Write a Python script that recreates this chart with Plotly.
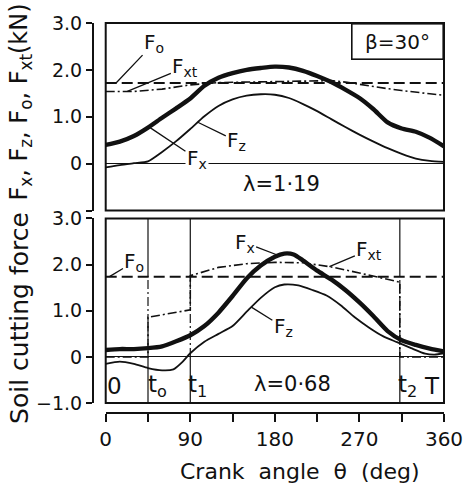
import plotly.graph_objects as go
import numpy as np

# ---------------- data ----------------
# Top panel (lambda = 1.19)
theta_top = [0, 15, 30, 45, 60, 75, 90, 105, 120, 135, 150, 165, 180, 195, 210,
             225, 240, 255, 270, 285, 300, 315, 330, 345, 360]
fx_top = [0.40, 0.47, 0.59, 0.77, 0.98, 1.18, 1.39, 1.66, 1.83, 1.93, 2.00, 2.04, 2.07,
          2.05, 1.98, 1.87, 1.74, 1.58, 1.40, 1.16, 0.88, 0.75, 0.68, 0.55, 0.37]
fz_top = [-0.08, -0.03, 0.01, 0.05, 0.25, 0.48, 0.74, 1.01, 1.23, 1.37, 1.45, 1.48, 1.47,
          1.40, 1.27, 1.12, 0.95, 0.78, 0.62, 0.47, 0.33, 0.21, 0.11, 0.06, 0.04]
theta_fxt_top = [0, 30, 60, 90, 120, 150, 180, 210, 240, 255, 270, 285, 300, 315, 330, 345, 360]
fxt_top = [1.54, 1.54, 1.59, 1.68, 1.73, 1.74, 1.75, 1.76, 1.77, 1.74, 1.69, 1.64, 1.60,
           1.56, 1.52, 1.49, 1.46]
f0_top = 1.72

# Bottom panel (lambda = 0.68)
theta_fx_bot = [0, 15, 30, 45, 60, 75, 90, 105, 120, 135, 150, 165, 180, 190, 200,
                210, 225, 240, 255, 270, 285, 300, 315, 330, 345, 360]
fx_bot = [0.15, 0.17, 0.17, 0.19, 0.23, 0.34, 0.47, 0.67, 0.96, 1.32, 1.70, 1.98, 2.17,
          2.24, 2.22, 2.09, 1.87, 1.68, 1.45, 1.18, 0.88, 0.56, 0.36, 0.26, 0.18, 0.12]
theta_fz_bot = [0, 15, 30, 45, 60, 72, 82, 90, 105, 120, 135, 150, 165, 180, 190,
                205, 220, 235, 250, 265, 280, 295, 310, 325, 340, 350, 360]
fz_bot = [-0.15, -0.10, -0.15, -0.24, -0.29, -0.27, -0.10, 0.08, 0.33, 0.50, 0.67, 0.98,
          1.28, 1.51, 1.57, 1.55, 1.45, 1.33, 1.12, 0.86, 0.64, 0.45, 0.32, 0.19, 0.07,
          0.05, 0.08]
theta_fxt_bot = [0, 45, 45, 90, 90, 120, 150, 180, 210, 240, 270, 300, 313, 313, 360]
fxt_bot = [0, 0, 0.86, 1.02, 1.76, 1.94, 2.02, 2.05, 2.04, 1.95, 1.82, 1.68, 1.62, 0, 0]
f0_bot = 1.74

t_marks = [45, 90, 313]

x_tick_vals = [0, 45, 90, 135, 180, 225, 270, 315, 360]
x_tick_text = ["0", "", "90", "", "180", "", "270", "", "360"]
y_tick_vals = [-1, 0, 1, 2, 3]
y_tick_text_top = ["", "0", "1.0", "2.0", "3.0"]
y_tick_text_bot = ["\u22121.0", "0", "1.0", "2.0", "3.0"]

FONT = "DejaVu Sans"
BLACK = "#111111"

fig = go.Figure()

def add_panel(xa, ya, th_fx, fx, th_fz, fz, th_fxt, fxt, f0):
    fig.add_trace(go.Scatter(x=[0, 360], y=[f0, f0], mode="lines", xaxis=xa, yaxis=ya,
                             line=dict(color=BLACK, width=2, dash="11px,5px"),
                             hoverinfo="skip"))
    fig.add_trace(go.Scatter(x=th_fxt, y=fxt, mode="lines", xaxis=xa, yaxis=ya,
                             line=dict(color=BLACK, width=1.6, dash="9px,3px,2px,3px"),
                             hoverinfo="skip"))
    fig.add_trace(go.Scatter(x=th_fz, y=fz, mode="lines", xaxis=xa, yaxis=ya,
                             line=dict(color=BLACK, width=1.8, shape="spline", smoothing=0.6),
                             hoverinfo="skip"))
    fig.add_trace(go.Scatter(x=th_fx, y=fx, mode="lines", xaxis=xa, yaxis=ya,
                             line=dict(color=BLACK, width=4.4, shape="spline", smoothing=0.6),
                             hoverinfo="skip"))

add_panel("x", "y", theta_top, fx_top, theta_top, fz_top, theta_fxt_top, fxt_top, f0_top)
add_panel("x2", "y2", theta_fx_bot, fx_bot, theta_fz_bot, fz_bot, theta_fxt_bot, fxt_bot, f0_bot)

# geometry (paper = plot area)
L, R, T, B = 93, 23, 20, 77
W, H = 475 - L - R, 490 - T - B
xdom = [(106 - L) / W, 1.0]
ydom_top = [(490 - B - 209) / H, 1.0]
ydom_bot = [(490 - B - 403) / H, (490 - B - 217) / H]

yax_common = dict(range=[-1, 3], anchor="free", position=0, tickvals=y_tick_vals,
                  ticks="outside", ticklen=6, tickwidth=2, tickcolor=BLACK,
                  showline=True, linewidth=2, linecolor=BLACK, showgrid=False,
                  zeroline=True, zerolinecolor=BLACK, zerolinewidth=1.3,
                  tickfont=dict(family=FONT, size=19, color=BLACK))

fig.update_layout(
    width=475, height=490,
    margin=dict(l=L, r=R, t=T, b=B),
    paper_bgcolor="white", plot_bgcolor="white",
    showlegend=False,
    xaxis=dict(domain=xdom, range=[0, 360], visible=False, anchor="y"),
    yaxis=dict(domain=ydom_top, ticktext=y_tick_text_top, **yax_common),
    xaxis2=dict(domain=xdom, range=[0, 360], anchor="free", position=0,
                tickvals=x_tick_vals, ticktext=x_tick_text, ticks="outside",
                ticklen=8, tickwidth=2, tickcolor=BLACK, showline=True, linewidth=2,
                linecolor=BLACK, showgrid=False, zeroline=False,
                tickfont=dict(family=FONT, size=20, color=BLACK)),
    yaxis2=dict(domain=ydom_bot, ticktext=y_tick_text_bot, **yax_common),
)

shapes = []
for xr, yr in (("x", "y"), ("x2", "y2")):
    shapes.append(dict(type="rect", xref=xr + " domain", yref=yr + " domain",
                       x0=0, x1=1, y0=0, y1=1, line=dict(color=BLACK, width=2), layer="above"))
for t in t_marks:
    shapes.append(dict(type="line", xref="x2", yref="y2", x0=t, x1=t, y0=f0_bot, y1=3,
                       line=dict(color=BLACK, width=1.2)))
    shapes.append(dict(type="line", xref="x2", yref="y2", x0=t, x1=t, y0=0, y1=f0_bot,
                       line=dict(color=BLACK, width=1.2, dash="9px,3px,2px,3px")))
    shapes.append(dict(type="line", xref="x2", yref="y2", x0=t, x1=t, y0=-1, y1=0,
                       line=dict(color=BLACK, width=1.2)))
fig.update_layout(shapes=shapes)

ann = []
def label(xr, yr, x, y, text, size=20, **kw):
    d = dict(xref=xr, yref=yr, x=x, y=y, text=text, showarrow=False,
             xanchor="center", yanchor="middle",
             font=dict(family=FONT, size=size, color=BLACK))
    d.update(kw)
    ann.append(d)

def leader(xr, yr, th, arr_th, arr_v, text, ax, ay, **kw):
    yv = float(np.interp(th, arr_th, arr_v))
    d = dict(xref=xr, yref=yr, x=th, y=yv, text=text, showarrow=True, arrowhead=0,
             arrowwidth=1.3, arrowcolor=BLACK, ax=ax, ay=ay,
             font=dict(family=FONT, size=20, color=BLACK))
    d.update(kw)
    ann.append(d)

# top panel labels
leader("x", "y", 11, [0, 360], [f0_top, f0_top], "F<sub>o</sub>", 38, -40)
leader("x", "y", 23, theta_fxt_top, fxt_top, "F<sub>xt</sub>", 58, -24)
leader("x", "y", 46, theta_top, fx_top, "F<sub>x</sub>", 48, 32, bgcolor="white")
leader("x", "y", 98, theta_top, fz_top, "F<sub>z</sub>", 39, 19)
ann.append(dict(xref="x domain", yref="y domain", x=1, y=1, xanchor="right", yanchor="top",
                text="\u03b2=30\u00b0", showarrow=False, width=90, height=34,
                bordercolor=BLACK, borderwidth=1.6, borderpad=0, bgcolor="white",
                font=dict(family=FONT, size=20, color=BLACK)))
label("x", "y", 187, -0.44, "\u03bb=1\u00b719", size=21)

# bottom panel labels
leader("x2", "y2", 4, [0, 360], [f0_bot, f0_bot], "F<sub>o</sub>", 25, -15)
leader("x2", "y2", 184, theta_fx_bot, fx_bot, "F<sub>x</sub>", -34, -13)
leader("x2", "y2", 155, theta_fz_bot, fz_bot, "F<sub>z</sub>", 32, 20)
leader("x2", "y2", 238, theta_fxt_bot[5:12], fxt_bot[5:12], "F<sub>xt</sub>", 40, -17)
label("x2", "y2", 199, -0.59, "\u03bb=0\u00b768", size=21)
label("x2", "y2", 9.4, -0.64, "0", size=23)
label("x2", "y2", 42.7, -0.64, "t<sub>o</sub>", size=23, xanchor="left")
label("x2", "y2", 85, -0.64, "t<sub>1</sub>", size=23, xanchor="left")
label("x2", "y2", 309, -0.64, "t<sub>2</sub>", size=23, xanchor="left")
label("x2", "y2", 347.5, -0.64, "T", size=23)

# axis titles
label("paper", "paper", (18.5 - L) / W, (490 - B - 317) / H, "Soil cutting force",
      size=25, textangle=-90)
label("paper", "paper", (18.5 - L) / W, (490 - B - 100) / H,
      "F<sub>x</sub>, F<sub>z</sub>, F<sub>o</sub>, F<sub>xt</sub>(kN)", size=24, textangle=-90)
label("paper", "paper", (305 - L) / W, (490 - B - 472) / H,
      "Crank\u00a0\u00a0angle\u00a0\u00a0\u03b8\u00a0\u00a0(deg)", size=22)

fig.update_layout(annotations=ann)
fig.write_html("out.html")
